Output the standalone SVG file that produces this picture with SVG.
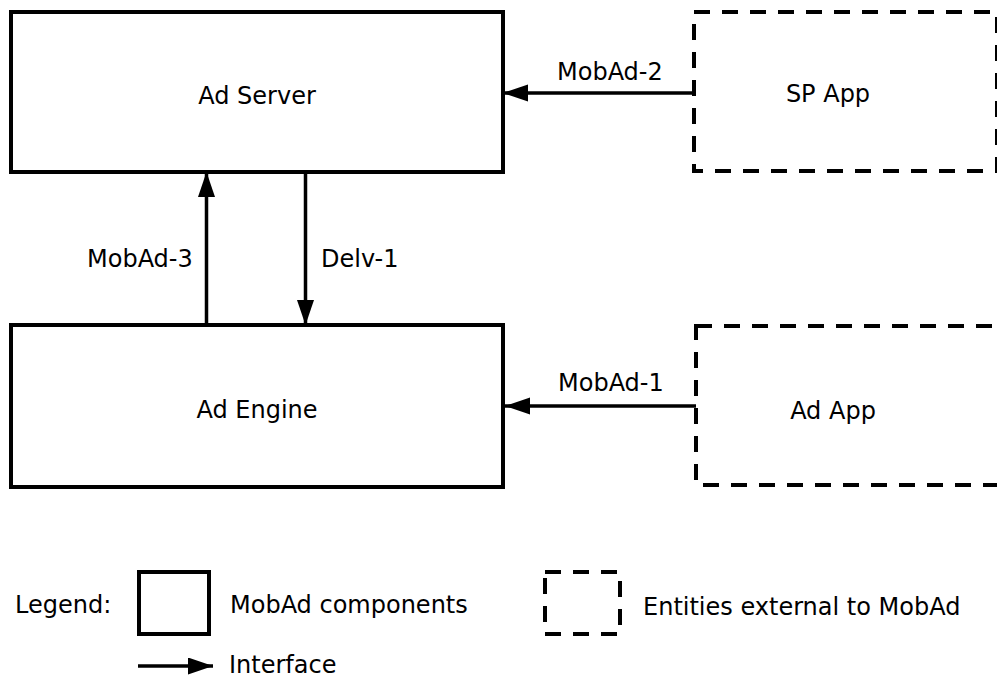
<svg xmlns="http://www.w3.org/2000/svg" width="997" height="679" viewBox="0 0 997 679">
<style>
text{font-family:"DejaVu Sans","Liberation Sans",sans-serif;font-size:24px;fill:#000}
.box{fill:#fff;stroke:#000;stroke-width:4}
.ext{fill:#fff;stroke:#000;stroke-width:4;stroke-dasharray:16 12}
.con{fill:none;stroke:#000;stroke-width:3.5}
.mid{text-anchor:middle}
</style>
<defs>
<marker id="ah" markerUnits="userSpaceOnUse" markerWidth="26" markerHeight="18" refX="25" refY="8.5" orient="auto">
<path d="M0,0 L25,8.5 L0,17 Z" fill="#000"/>
</marker>
</defs>
<rect width="997" height="679" fill="#fff"/>
<g id="ad-server">
<rect class="box" x="11" y="12" width="492" height="160"/>
<text class="mid" x="257" y="104">Ad Server</text>
</g>
<g id="ad-engine">
<rect class="box" x="11" y="325" width="492" height="162"/>
<text class="mid" x="257" y="418">Ad Engine</text>
</g>
<g id="sp-app">
<rect class="ext" x="694" y="12" width="303" height="159"/>
<text class="mid" x="828" y="102">SP App</text>
</g>
<g id="ad-app">
<rect class="ext" x="696" y="326" width="310" height="159"/>
<text class="mid" x="833" y="419">Ad App</text>
</g>
<g id="connectors">
<line class="con" x1="694" y1="93" x2="503" y2="93" marker-end="url(#ah)"/>
<text x="557" y="80">MobAd-2</text>
<line class="con" x1="696" y1="406" x2="505" y2="406" marker-end="url(#ah)"/>
<text x="558" y="391">MobAd-1</text>
<line class="con" x1="206.5" y1="325" x2="206.5" y2="172" marker-end="url(#ah)"/>
<text x="87" y="267">MobAd-3</text>
<line class="con" x1="305.5" y1="172" x2="305.5" y2="325" marker-end="url(#ah)"/>
<text x="321" y="267">Delv-1</text>
</g>
<g id="legend">
<text x="15" y="613">Legend:</text>
<rect class="box" x="139" y="572" width="70" height="62"/>
<text x="230" y="613">MobAd components</text>
<rect class="ext" x="545" y="572" width="75" height="62"/>
<text x="643" y="615">Entities external to MobAd</text>
<line class="con" x1="138" y1="666" x2="213" y2="666" marker-end="url(#ah)"/>
<text x="229" y="673">Interface</text>
</g>
</svg>
